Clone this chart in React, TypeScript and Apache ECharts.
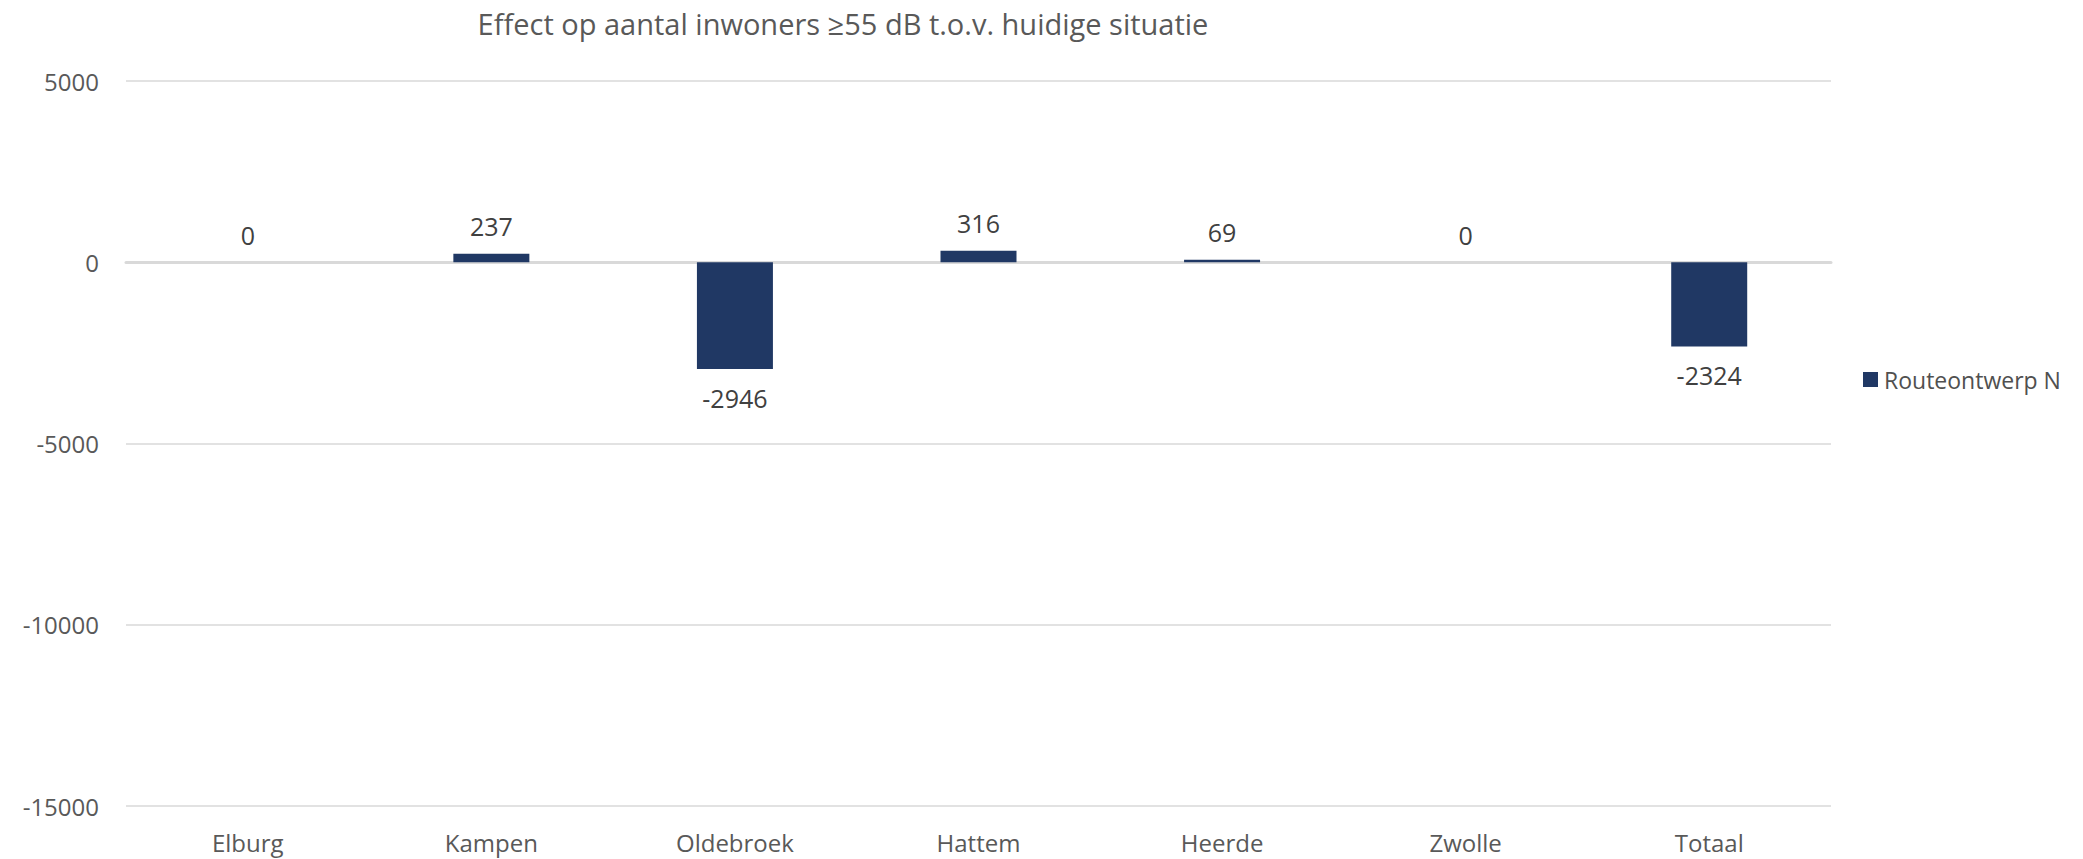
import React, { useEffect, useRef } from "react";
import * as echarts from "echarts";

const title = "Effect op aantal inwoners ≥55 dB t.o.v. huidige situatie";
const categories = ["Elburg", "Kampen", "Oldebroek", "Hattem", "Heerde", "Zwolle", "Totaal"];
const seriesName = "Routeontwerp N";
const values = [0, 237, -2946, 316, 69, 0, -2324];
const yTicks = { min: -15000, max: 5000, interval: 5000 };

const FONT = "Open Sans";

export default function App() {
  const ref = useRef<HTMLDivElement>(null);
  useEffect(() => {
    if (!ref.current) return;
    const chart = echarts.init(ref.current, undefined, { renderer: "svg" });
    chart.setOption({
      animation: false,
      backgroundColor: "#ffffff",
      textStyle: { fontFamily: FONT },
      title: {
        text: title,
        left: 838,
        top: 4,
        textAlign: "center",
        textStyle: { fontFamily: FONT, fontSize: 29, fontWeight: "normal", color: "#595959" },
      },
      legend: {
        data: [seriesName],
        left: 1858,
        top: 363,
        icon: "rect",
        itemWidth: 15,
        itemHeight: 15,
        itemGap: 6,
        textStyle: { fontFamily: FONT, fontSize: 23, color: "#505050", padding: [0, 0, 0, 1] },
      },
      grid: { left: 126, right: 252, top: 81, bottom: 53, containLabel: false },
      xAxis: [
        {
          type: "category",
          data: categories,
          axisLine: { show: true, onZero: true, lineStyle: { color: "#d9d9d9", width: 3 } },
          axisTick: { show: false },
          axisLabel: { show: false },
        },
        {
          type: "category",
          data: categories,
          position: "bottom",
          axisLine: { show: false, onZero: false },
          axisTick: { show: false },
          axisLabel: { fontFamily: FONT, fontSize: 24, color: "#595959", margin: 24 },
        },
      ],
      yAxis: {
        type: "value",
        min: yTicks.min,
        max: yTicks.max,
        interval: yTicks.interval,
        axisLine: { show: false },
        axisTick: { show: false },
        axisLabel: {
          fontFamily: FONT,
          fontSize: 24,
          color: "#595959",
          margin: 27,
          formatter: (v: number) => String(v),
        },
        splitLine: { lineStyle: { color: "#d9d9d9", width: 1.5 } },
      },
      series: [
        {
          name: seriesName,
          type: "bar",
          xAxisIndex: 0,
          barWidth: 76,
          itemStyle: { color: "#203864" },
          data: values.map((v) => ({
            value: v,
            label: v < 0 ? { position: "bottom", distance: 16 } : { position: "top", distance: 15 },
          })),
          label: {
            show: true,
            fontFamily: FONT,
            fontSize: 25,
            color: "#404040",
          },
        },
      ],
    });
    return () => chart.dispose();
  }, []);
  return <div ref={ref} style={{ position: "fixed", left: 0, top: 0, width: 2083, height: 859 }} />;
}
